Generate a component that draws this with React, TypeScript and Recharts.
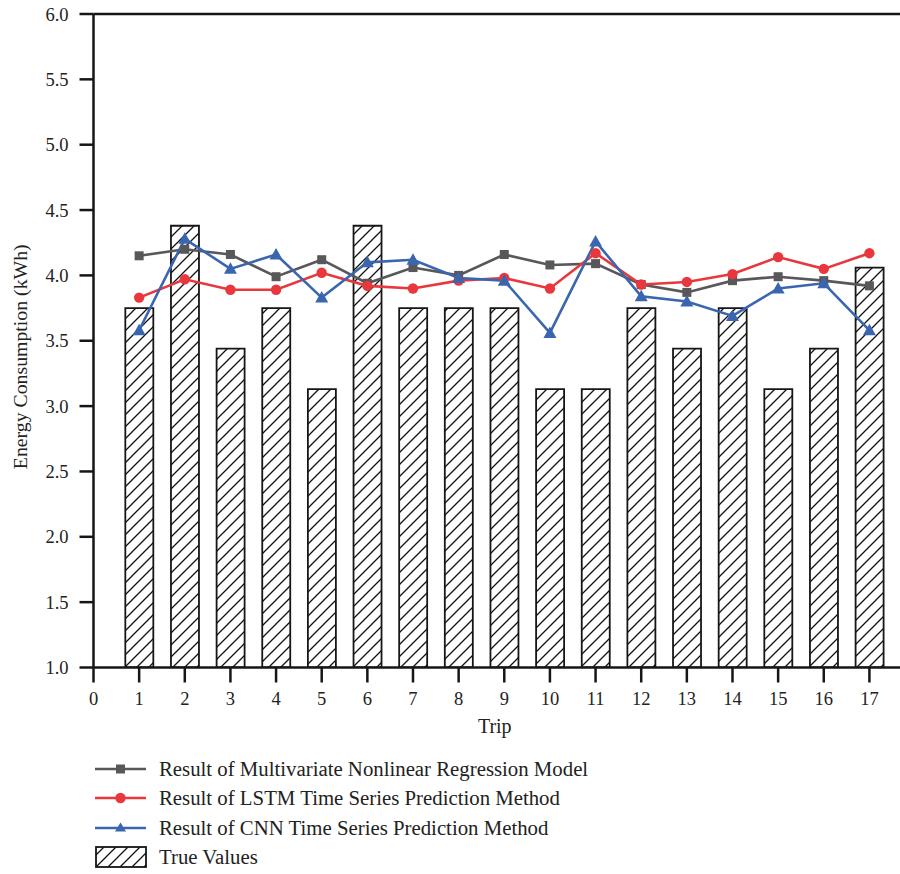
import React from 'react';
import { ComposedChart, Bar, Line, XAxis, YAxis, ReferenceLine, Label } from 'recharts';

const trips = [1, 2, 3, 4, 5, 6, 7, 8, 9, 10, 11, 12, 13, 14, 15, 16, 17];
const trueValues = [3.75, 4.38, 3.44, 3.75, 3.13, 4.38, 3.75, 3.75, 3.75, 3.13, 3.13, 3.75, 3.44, 3.75, 3.13, 3.44, 4.06];
const mnrValues = [4.15, 4.2, 4.16, 3.99, 4.12, 3.94, 4.06, 4.0, 4.16, 4.08, 4.09, 3.93, 3.87, 3.96, 3.99, 3.96, 3.92];
const lstmValues = [3.83, 3.97, 3.89, 3.89, 4.02, 3.92, 3.9, 3.96, 3.98, 3.9, 4.17, 3.93, 3.95, 4.01, 4.14, 4.05, 4.17];
const cnnValues = [3.58, 4.28, 4.05, 4.16, 3.83, 4.1, 4.12, 3.98, 3.96, 3.56, 4.26, 3.84, 3.8, 3.69, 3.9, 3.94, 3.58];

const xTicks = [0, 1, 2, 3, 4, 5, 6, 7, 8, 9, 10, 11, 12, 13, 14, 15, 16, 17];
const yTicks = [1, 1.5, 2, 2.5, 3, 3.5, 4, 4.5, 5, 5.5, 6];

const seriesNames = [
  'Result of Multivariate Nonlinear Regression Model',
  'Result of LSTM Time Series Prediction Method',
  'Result of CNN Time Series Prediction Method',
  'True Values',
];

const GREY = '#58585a';
const RED = '#e8383d';
const BLUE = '#3a66b0';
const AXIS = '#161616';
const TEXT = '#222';
const FONT = '"Liberation Serif", "Times New Roman", serif';

const data = trips.map((trip, i) => ({
  trip,
  actual: trueValues[i],
  mnr: mnrValues[i],
  lstm: lstmValues[i],
  cnn: cnnValues[i],
}));

const SquareDot = (props: any) => {
  const { cx, cy } = props;
  if (cx == null || cy == null) return null;
  return <rect x={cx - 4.5} y={cy - 4.5} width={9} height={9} fill={GREY} />;
};

const CircleDot = (props: any) => {
  const { cx, cy } = props;
  if (cx == null || cy == null) return null;
  return <circle cx={cx} cy={cy} r={5.2} fill={RED} />;
};

const TriangleDot = (props: any) => {
  const { cx, cy } = props;
  if (cx == null || cy == null) return null;
  return <path d={`M${cx},${cy - 6.5} L${cx + 6.5},${cy + 5} L${cx - 6.5},${cy + 5} Z`} fill={BLUE} />;
};

const LegendIcon = ({ kind }: { kind: number }) => {
  if (kind === 3) {
    return (
      <svg width={54} height={24} style={{ display: 'block' }}>
        <rect x={2} y={2} width={50} height={20} fill="url(#hatch)" stroke={AXIS} strokeWidth={1.8} />
      </svg>
    );
  }
  const color = [GREY, RED, BLUE][kind];
  return (
    <svg width={54} height={24} style={{ display: 'block' }}>
      <line x1={1} y1={12} x2={52} y2={12} stroke={color} strokeWidth={2.6} />
      {kind === 0 && <rect x={22} y={7.5} width={9} height={9} fill={color} />}
      {kind === 1 && <circle cx={26.5} cy={12} r={5.2} fill={color} />}
      {kind === 2 && <path d="M26.5,6.5 L32,15.5 L21,15.5 Z" fill={color} />}
    </svg>
  );
};

export default function App() {
  return (
    <div style={{ position: 'absolute', left: 0, top: 0, width: 900, height: 874, overflow: 'hidden', background: '#fff', fontFamily: FONT }}>
      <svg width={0} height={0} style={{ position: 'absolute' }}>
        <defs>
          <pattern id="hatch" patternUnits="userSpaceOnUse" width={12} height={12}>
            <rect width={12} height={12} fill="#fff" />
            <path d="M-2,14 L14,-2 M-2,2 L2,-2 M10,14 L14,10" stroke="#111" strokeWidth={1.3} />
          </pattern>
        </defs>
      </svg>
      <ComposedChart
        width={900}
        height={874}
        data={data}
        margin={{ top: 14, right: 0, left: 0, bottom: 146.5 }}
        style={{ fontFamily: FONT }}
      >
        <XAxis
          dataKey="trip"
          type="number"
          domain={[0, 17.67]}
          ticks={xTicks}
          allowDataOverflow
          height={60}
          tickSize={15}
          tickMargin={9}
          axisLine={{ stroke: AXIS, strokeWidth: 2.5 }}
          tickLine={{ stroke: AXIS, strokeWidth: 2.5 }}
          tick={{ fill: TEXT, fontSize: 18.5, fontFamily: FONT }}
        >
          <Label
            content={(p: any) => {
              const vb = p.viewBox;
              return (
                <text x={vb.x + vb.width / 2 - 2} y={vb.y + 65.5} textAnchor="middle" fontSize={20} fill={TEXT} fontFamily={FONT}>
                  Trip
                </text>
              );
            }}
          />
        </XAxis>
        <YAxis
          type="number"
          domain={[1, 6]}
          ticks={yTicks}
          allowDataOverflow
          width={93.5}
          tickSize={14}
          tickMargin={11}
          tickFormatter={(v: number) => v.toFixed(1)}
          axisLine={{ stroke: AXIS, strokeWidth: 2.5 }}
          tickLine={{ stroke: AXIS, strokeWidth: 2.5 }}
          tick={{ fill: TEXT, fontSize: 18.5, fontFamily: FONT }}
        >
          <Label
            content={(p: any) => {
              const vb = p.viewBox;
              const cy = vb.y + vb.height / 2 + 16;
              return (
                <text x={20} y={cy} transform={`rotate(-90, 20, ${cy})`} textAnchor="middle" dominantBaseline="central" fontSize={19.8} fill={TEXT} fontFamily={FONT}>
                  Energy Consumption (kWh)
                </text>
              );
            }}
          />
        </YAxis>
        <ReferenceLine y={6} stroke={AXIS} strokeWidth={2.5} ifOverflow="extendDomain" />
        <Bar dataKey="actual" barSize={28} fill="url(#hatch)" stroke={AXIS} strokeWidth={1.8} isAnimationActive={false} />
        <Line dataKey="mnr" stroke={GREY} strokeWidth={2.6} dot={<SquareDot />} activeDot={false} isAnimationActive={false} />
        <Line dataKey="lstm" stroke={RED} strokeWidth={2.6} dot={<CircleDot />} activeDot={false} isAnimationActive={false} />
        <Line dataKey="cnn" stroke={BLUE} strokeWidth={2.6} dot={<TriangleDot />} activeDot={false} isAnimationActive={false} />
      </ComposedChart>
      <div style={{ position: 'absolute', left: 94, top: 754, color: TEXT, fontSize: 20.8 }}>
        {seriesNames.map((name, i) => (
          <div key={name} style={{ display: 'flex', alignItems: 'center', height: 29.5 }}>
            <LegendIcon kind={i} />
            <span style={{ marginLeft: 11, whiteSpace: 'nowrap' }}>{name}</span>
          </div>
        ))}
      </div>
    </div>
  );
}
